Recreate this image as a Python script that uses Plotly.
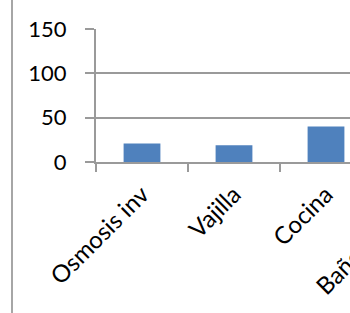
import plotly.graph_objects as go

categories = ["Osmosis inv", "Vajilla", "Cocina", "Baño y ducha"]
values = [21, 19, 40, None]
y_ticks = [0, 50, 100, 150]

GRAY = "#9a9a9a"
FONT = dict(family="Lato, Calibri, sans-serif", size=22, color="#000000")
XFONT = dict(family="Lato, Calibri, sans-serif", size=24, color="#000000")

fig = go.Figure(
    go.Bar(x=categories, y=values, marker=dict(color="#4F81BD", line=dict(width=0)))
)

W, H = 484, 313
L, T, B, R = 96, 29, 151, 20
plot_w = W - L - R

fig.update_layout(
    width=W, height=H,
    margin=dict(l=L, r=R, t=T, b=B, pad=0),
    paper_bgcolor="white", plot_bgcolor="white",
    bargap=0.6,
    showlegend=False,
    font=FONT,
    shapes=[dict(type="line", xref="paper", yref="paper",
                 x0=(12 - L) / plot_w, x1=(12 - L) / plot_w,
                 y0=-2, y1=2, line=dict(color="#a6a6a6", width=2))],
)
fig.update_yaxes(
    range=[0, 150], tickvals=y_ticks, showgrid=True, gridcolor=GRAY, gridwidth=2,
    showline=True, linecolor=GRAY, linewidth=2, ticks="outside", ticklen=9,
    tickwidth=2, tickcolor=GRAY, ticklabelstandoff=14, zeroline=False, tickfont=FONT,
    automargin=False,
)
fig.update_xaxes(
    range=[-0.5, 3.5], showline=True, linecolor=GRAY, linewidth=2,
    ticks="outside", ticklen=8, tickwidth=2, tickcolor=GRAY, tickson="boundaries",
    tickangle=-45, tickfont=XFONT, showgrid=False, ticklabelstandoff=7,
    automargin=False,
)

fig.write_html(
    "out.html",
    config={"displayModeBar": False},
    post_script="document.body.style.margin='0';document.body.style.overflow='hidden';",
)
